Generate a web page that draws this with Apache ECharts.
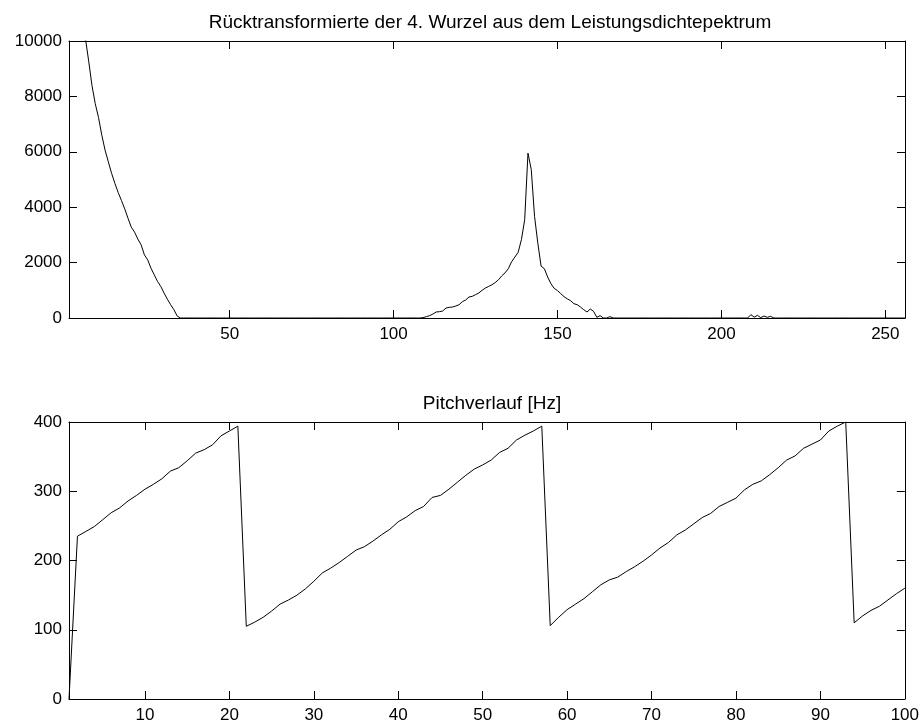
<!DOCTYPE html>
<html>
<head>
<meta charset="utf-8">
<title>Cepstrum und Pitchverlauf</title>
<script src="https://cdn.jsdelivr.net/npm/echarts@6/dist/echarts.min.js"></script>
<style>
  html, body { margin: 0; padding: 0; background: #ffffff; }
  #chart { width: 922px; height: 724px; }
</style>
</head>
<body>
<div id="chart"></div>
<script>
// Upper panel: back-transformed 4th root of the power density spectrum, samples 1..256
const spectrumValues = [
  16300, 14900, 13600, 12400, 11200, 10100, 9280, 8400, 7740, 7240,
  6600, 6060, 5640, 5220, 4860, 4530, 4240, 3940, 3600, 3280,
  3100, 2850, 2640, 2280, 2100, 1800, 1560, 1320, 1140, 900,
  680, 480, 300, 70, 0, 0, 0, 0, 0, 0,
  0, 0, 0, 0, 0, 0, 0, 0, 0, 0,
  0, 0, 0, 0, 0, 0, 0, 0, 0, 0,
  0, 0, 0, 0, 0, 0, 0, 0, 0, 0,
  0, 0, 0, 0, 0, 0, 0, 0, 0, 0,
  0, 0, 0, 0, 0, 0, 0, 0, 0, 0,
  0, 0, 0, 0, 0, 0, 0, 0, 0, 0,
  0, 0, 0, 0, 0, 0, 0, 0, 12, 48,
  84, 144, 217, 229, 253, 361, 385, 397, 433, 481,
  590, 650, 758, 782, 842, 903, 1000, 1080, 1140, 1200,
  1280, 1380, 1520, 1630, 1780, 2030, 2200, 2370, 2830, 3550,
  5950, 5360, 3670, 2700, 1870, 1780, 1480, 1240, 1070, 990,
  880, 770, 690, 626, 517, 481, 397, 301, 217, 325,
  241, 24, 84, 0, 0, 48, 0, 0, 0, 0,
  0, 0, 0, 0, 0, 0, 0, 0, 0, 0,
  0, 0, 0, 0, 0, 0, 0, 0, 0, 0,
  0, 0, 0, 0, 0, 0, 0, 0, 0, 0,
  0, 0, 0, 0, 0, 0, 0, 0, 120, 30,
  96, 12, 72, 24, 60, 0, 0, 0, 0, 0,
  0, 0, 0, 0, 0, 0, 0, 0, 0, 0,
  0, 0, 0, 0, 0, 0, 0, 0, 0, 0,
  0, 0, 0, 0, 0, 0, 0, 0, 0, 0,
  0, 0, 0, 0, 0, 0
];

// Lower panel: pitch track in Hz, frames 1..100
const pitchValues = [
  0, 235, 242, 249, 259, 269, 276, 286, 294, 303,
  310, 318, 329, 334, 344, 355, 360, 367, 380, 387,
  394, 105, 111, 118, 127, 137, 143, 150, 159, 170,
  182, 189, 197, 206, 215, 220, 228, 237, 245, 256,
  263, 272, 278, 291, 294, 303, 313, 323, 332, 338,
  345, 356, 362, 374, 381, 387, 394, 106, 118, 129,
  137, 145, 155, 165, 172, 176, 184, 191, 199, 208,
  218, 226, 237, 244, 253, 262, 268, 278, 284, 290,
  302, 310, 315, 324, 334, 345, 351, 362, 368, 374,
  387, 394, 400, 110, 120, 128, 134, 143, 152, 160
];

const spectrumTitle = 'Rücktransformierte der 4. Wurzel aus dem Leistungsdichtepektrum';
const pitchTitle = 'Pitchverlauf [Hz]';

const spectrumXTicks = [50, 100, 150, 200, 250];
const spectrumXRange = [1, 256];
const spectrumYRange = [0, 10000];
const spectrumYStep = 2000;

const pitchXTicks = [10, 20, 30, 40, 50, 60, 70, 80, 90, 100];
const pitchXRange = [1, 100];
const pitchYRange = [0, 400];
const pitchYStep = 100;

const FONT = "'Liberation Sans', Arial, Helvetica, sans-serif";
const INK = '#000000';

const toPairs = vals => vals.map((v, i) => [i + 1, v]);
const plainNumber = v => String(v);

function xAxisFor(gridIndex, range, ticks, position, showLabels) {
  return {
    type: 'value',
    gridIndex: gridIndex,
    position: position,
    min: range[0],
    max: range[1],
    axisLine: { show: true, onZero: false, lineStyle: { color: INK, width: 1 } },
    axisTick: { show: true, inside: true, length: 8, customValues: ticks, lineStyle: { color: INK, width: 1 } },
    axisLabel: { show: showLabels, customValues: ticks, formatter: plainNumber, margin: 8,
      color: INK, fontFamily: FONT, fontSize: 17 },
    splitLine: { show: false }
  };
}

function yAxisFor(gridIndex, range, step, position, showLabels) {
  return {
    type: 'value',
    gridIndex: gridIndex,
    position: position,
    min: range[0],
    max: range[1],
    interval: step,
    axisLine: { show: true, onZero: false, lineStyle: { color: INK, width: 1 } },
    axisTick: { show: true, inside: true, length: 8, lineStyle: { color: INK, width: 1 } },
    axisLabel: { show: showLabels, formatter: plainNumber, margin: 7,
      color: INK, fontFamily: FONT, fontSize: 17 },
    splitLine: { show: false }
  };
}

const chart = echarts.init(document.getElementById('chart'), null, { renderer: 'canvas' });

chart.setOption({
  animation: false,
  backgroundColor: '#ffffff',
  title: [
    { text: spectrumTitle, left: 485, top: 8, textAlign: 'center',
      textStyle: { fontFamily: FONT, fontSize: 19, fontWeight: 'normal', color: INK } },
    { text: pitchTitle, left: 487, top: 389, textAlign: 'center',
      textStyle: { fontFamily: FONT, fontSize: 19, fontWeight: 'normal', color: INK } }
  ],
  grid: [
    { left: 69, top: 41, width: 836, height: 277 },
    { left: 69, top: 422, width: 836, height: 278 }
  ],
  xAxis: [
    xAxisFor(0, spectrumXRange, spectrumXTicks, 'bottom', true),
    xAxisFor(0, spectrumXRange, spectrumXTicks, 'top', false),
    xAxisFor(1, pitchXRange, pitchXTicks, 'bottom', true),
    xAxisFor(1, pitchXRange, pitchXTicks, 'top', false)
  ],
  yAxis: [
    yAxisFor(0, spectrumYRange, spectrumYStep, 'left', true),
    yAxisFor(0, spectrumYRange, spectrumYStep, 'right', false),
    yAxisFor(1, pitchYRange, pitchYStep, 'left', true),
    yAxisFor(1, pitchYRange, pitchYStep, 'right', false)
  ],
  series: [
    {
      type: 'line', xAxisIndex: 0, yAxisIndex: 0,
      data: toPairs(spectrumValues),
      showSymbol: false, clip: true,
      lineStyle: { color: INK, width: 1 }
    },
    {
      type: 'line', xAxisIndex: 2, yAxisIndex: 2,
      data: toPairs(pitchValues),
      showSymbol: false, clip: true,
      lineStyle: { color: INK, width: 1 }
    }
  ]
});
</script>
</body>
</html>
